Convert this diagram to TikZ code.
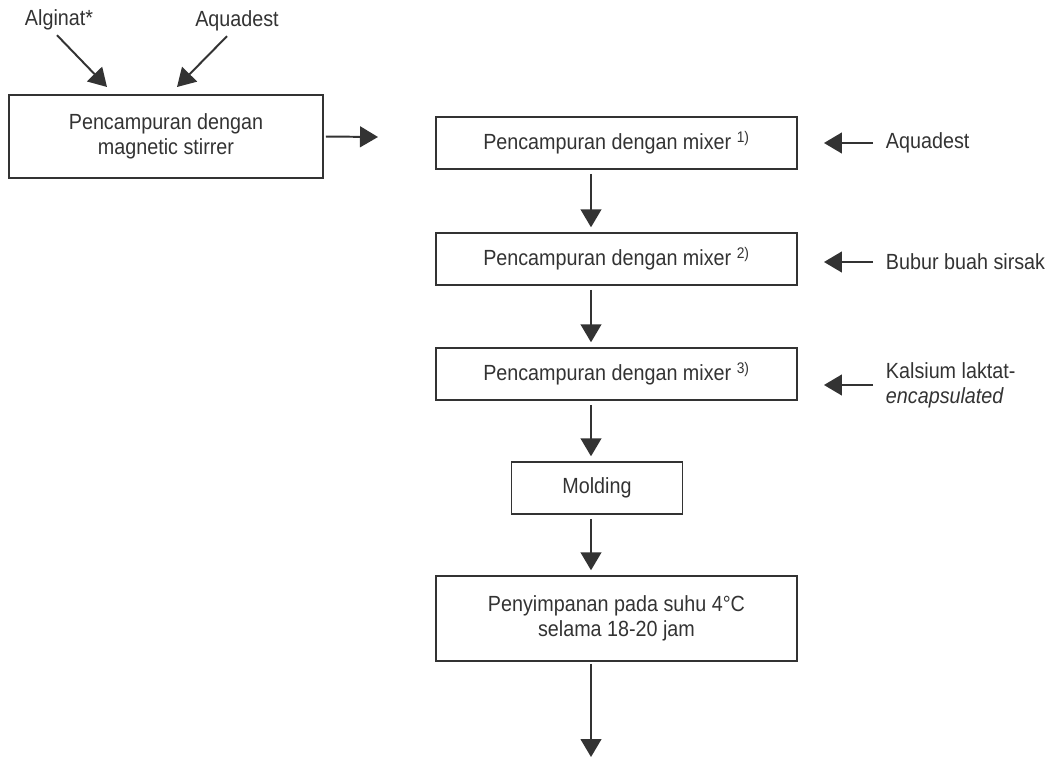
\documentclass[tikz,border=0pt]{standalone}
\usepackage{fontspec}
\setmainfont{Liberation Sans}[FakeStretch=0.9]
\usepackage{xcolor}
\usetikzlibrary{arrows.meta,positioning,calc}
\definecolor{ink}{HTML}{333333}

\begin{document}
\begin{tikzpicture}[x=0.025cm, y=-0.025cm,
    every node/.style={font=\fontsize{15.6}{17.8}\selectfont, text=ink},
    box/.style={draw=ink, line width=1.3pt, rectangle, align=center, minimum width=9.025cm, minimum height=1.3cm},
    lbl/.style={align=left, anchor=west},
    arr/.style={draw=ink, line width=1.4pt, -{Triangle[length=0.45cm, width=0.52cm]}}]
    \useasboundingbox (0,0) rectangle (1058,760);

    % Inputs of the stirrer
    \node (alg) at (59,20) {Alginat*};
    \node (aq0) at (237,21) {Aquadest};
    \node[box, minimum width=7.85cm, minimum height=2.075cm] (mag) at (166,136.5) {Pencampuran dengan\\magnetic stirrer};
    \coordinate (in1) at (107,87);
    \coordinate (in2) at (177,87);
    \draw[arr] ([xshift=-0.05cm]alg.south) -- (in1);
    \draw[arr] ([xshift=-0.25cm]aq0.south) -- (in2);
    \coordinate (magout) at (378,137);
    \draw[arr, shorten <=0.05cm] (mag.east) -- (magout);

    % Main line
    \node[box] (mix1) at (616.5,143) {Pencampuran dengan mixer \textsuperscript{1)}};
    \node[box] (mix2) at (616.5,259) {Pencampuran dengan mixer \textsuperscript{2)}};
    \node[box] (mix3) at (616.5,374) {Pencampuran dengan mixer \textsuperscript{3)}};
    \node[box, minimum width=4.275cm] (mold) at (597,488) {Molding};
    \node[box, minimum height=2.125cm] (store) at (616.5,618.5) {Penyimpanan pada suhu 4°C\\selama 18-20 jam};
    \coordinate (col) at (591,0);
    \coordinate (out) at (591,757);
    \foreach \a/\b in {mix1/mix2, mix2/mix3, mix3/mold, mold/store}
        \draw[arr, shorten <=0.1cm, shorten >=0.12cm] (\a.south -| col) -- (\b.north -| col);
    \draw[arr, shorten <=0.05cm] (store.south -| col) -- (out);

    % Added materials
    \node[lbl] (aq1) at (881,143) {Aquadest};
    \node[lbl] (bub) at (881,262) {Bubur buah sirsak};
    \node[lbl] (kal) at (881,385) {Kalsium laktat-\\\textit{encapsulated}};
    \foreach \l/\b in {aq1/mix1, bub/mix2, kal/mix3}
        \draw[arr, shorten <=0.2cm, shorten >=0.65cm] (\l.west) -- (\l.west -| \b.east);
\end{tikzpicture}
\end{document}
